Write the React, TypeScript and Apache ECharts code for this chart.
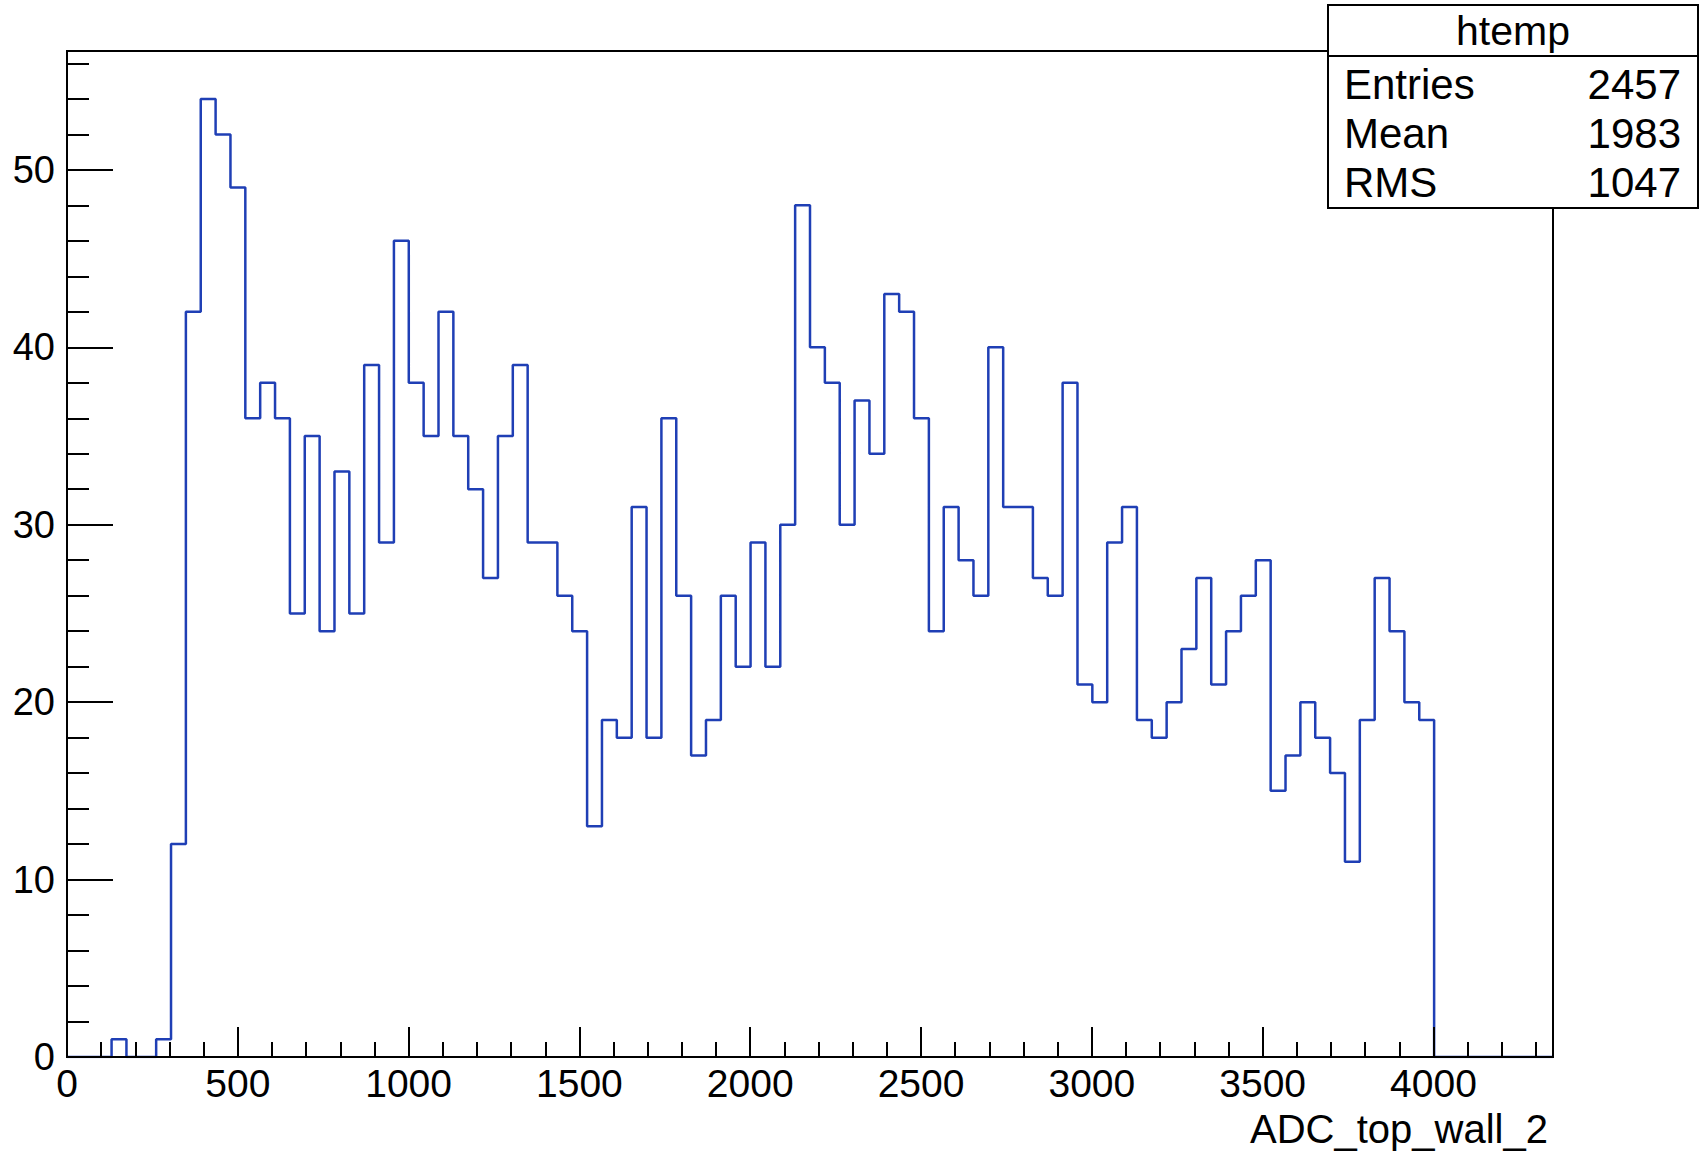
import React, { useEffect, useRef } from 'react'
import * as echarts from 'echarts'

// histogram htemp: 100 bins from 0 to 4350
const xMin = 0
const xMax = 4350
const binWidth = 43.5
const yMax = 56.7

const counts = [
  0, 0, 0, 1, 0, 0, 1, 12, 42, 54,
  52, 49, 36, 38, 36, 25, 35, 24, 33, 25,
  39, 29, 46, 38, 35, 42, 35, 32, 27, 35,
  39, 29, 29, 26, 24, 13, 19, 18, 31, 18,
  36, 26, 17, 19, 26, 22, 29, 22, 30, 48,
  40, 38, 30, 37, 34, 43, 42, 36, 24, 31,
  28, 26, 40, 31, 31, 27, 26, 38, 21, 20,
  29, 31, 19, 18, 20, 23, 27, 21, 24, 26,
  28, 15, 17, 20, 18, 16, 11, 19, 27, 24,
  20, 19, 0, 0, 0, 0, 0, 0, 0, 0,
]

const histName = 'htemp'
const xTitle = 'ADC_top_wall_2'
const statNames = ['Entries', 'Mean', 'RMS']
const statValues = ['2457', '1983', '1047']

const FONT = '"Liberation Sans", Arial, Helvetica, sans-serif'
const LINE = '#1f3fb5'

const App: React.FC = () => {
  const chartRef = useRef<HTMLDivElement>(null)

  useEffect(() => {
    if (!chartRef.current) return
    const chart = echarts.init(chartRef.current, undefined, { renderer: 'svg' })

    // step outline: left edge of each bin, closed at the upper edge
    const outline: number[][] = counts.map((c, i) => [xMin + i * binWidth, c])
    outline.push([xMax, 0])

    const boxLeft = 1328
    const boxRight = 1698
    const statElements: any[] = []
    statNames.forEach((name, i) => {
      const y = 84 + i * 49
      statElements.push({
        type: 'text', x: boxLeft + 16, y, z: 21,
        style: { text: name, fill: '#000', fontSize: 42, fontFamily: FONT, textAlign: 'left', textVerticalAlign: 'middle' }
      })
      statElements.push({
        type: 'text', x: boxRight - 17, y, z: 21,
        style: { text: statValues[i], fill: '#000', fontSize: 42, fontFamily: FONT, textAlign: 'right', textVerticalAlign: 'middle' }
      })
    })

    const labelStyle = { color: '#000', fontSize: 39, fontFamily: FONT }
    const plain = (v: number) => String(v)

    const option: echarts.EChartsOption = {
      animation: false,
      backgroundColor: '#fff',
      grid: {
        left: 67, right: 146, top: 51, bottom: 95,
        show: true, borderColor: '#000', borderWidth: 2, backgroundColor: '#fff'
      },
      xAxis: [
        {
          type: 'value', min: xMin, max: xMax, interval: 500, z: 5,
          name: xTitle, nameLocation: 'end', nameGap: -5,
          nameTextStyle: { color: '#000', fontSize: 40, fontFamily: FONT, align: 'right', verticalAlign: 'top', padding: [52, 0, 0, 0] },
          axisLine: { show: true, lineStyle: { color: '#000', width: 2 } },
          axisTick: { show: true, inside: true, length: 30, lineStyle: { color: '#000', width: 2 } },
          axisLabel: { ...labelStyle, margin: 7, showMaxLabel: false, formatter: plain },
          splitLine: { show: false }
        },
        {
          type: 'value', min: xMin, max: xMax, interval: 100, z: 5, position: 'bottom',
          axisLine: { show: false },
          axisTick: { show: true, inside: true, length: 15, lineStyle: { color: '#000', width: 2 } },
          axisLabel: { show: false },
          splitLine: { show: false }
        }
      ],
      yAxis: [
        {
          type: 'value', min: 0, max: yMax, interval: 10, z: 5,
          axisLine: { show: true, lineStyle: { color: '#000', width: 2 } },
          axisTick: { show: true, inside: true, length: 46, lineStyle: { color: '#000', width: 2 } },
          axisLabel: { ...labelStyle, fontSize: 38, margin: 12, showMaxLabel: false, formatter: plain },
          splitLine: { show: false }
        },
        {
          type: 'value', min: 0, max: yMax, interval: 2, z: 5, position: 'left',
          axisLine: { show: false },
          axisTick: { show: true, inside: true, length: 22, lineStyle: { color: '#000', width: 2 } },
          axisLabel: { show: false },
          splitLine: { show: false }
        }
      ],
      series: [
        {
          type: 'line',
          name: histName,
          data: outline,
          step: 'end',
          showSymbol: false,
          symbol: 'none',
          lineStyle: { color: LINE, width: 2.5 },
          z: 2
        }
      ],
      graphic: [
        {
          type: 'rect', z: 20,
          shape: { x: boxLeft, y: 5, width: boxRight - boxLeft, height: 203 },
          style: { fill: '#fff', stroke: '#000', lineWidth: 2 }
        },
        {
          type: 'line', z: 21,
          shape: { x1: boxLeft, y1: 56, x2: boxRight, y2: 56 },
          style: { stroke: '#000', lineWidth: 2 }
        },
        {
          type: 'text', x: (boxLeft + boxRight) / 2, y: 31, z: 21,
          style: { text: histName, fill: '#000', fontSize: 41, fontFamily: FONT, textAlign: 'center', textVerticalAlign: 'middle' }
        },
        ...statElements
      ]
    }

    chart.setOption(option)
    const handleResize = () => chart.resize()
    window.addEventListener('resize', handleResize)
    return () => {
      window.removeEventListener('resize', handleResize)
      chart.dispose()
    }
  }, [])

  return <div ref={chartRef} style={{ position: 'fixed', left: 0, top: 0, width: '1699px', height: '1152px' }} />
}

export default App
